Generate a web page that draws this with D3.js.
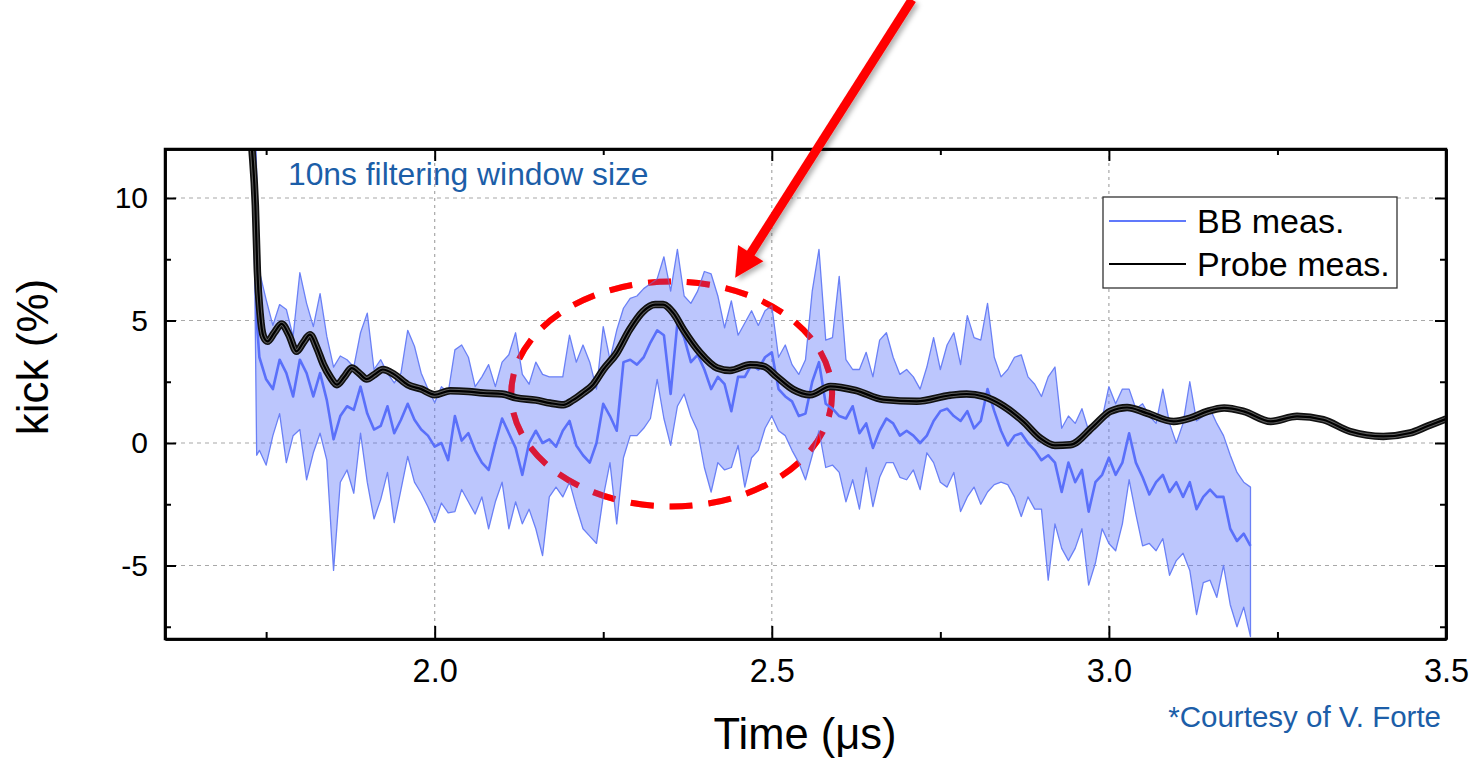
<!DOCTYPE html>
<html><head><meta charset="utf-8">
<script src="https://cdn.jsdelivr.net/npm/d3@7"></script>
<style>body{margin:0;background:#fff}svg{display:block}text{font-family:Arial,"Liberation Sans",sans-serif}</style>
</head><body>
<svg id="c" width="1473" height="759"></svg>
<script>
// ---------- data ----------
const xDomain = [1.6, 3.5];
const yDomain = [-8, 12];
const xMajor = [2.0, 2.5, 3.0, 3.5];
const xMinor = [1.75, 2.25, 2.75, 3.25];
const yMajor = [-5, 0, 5, 10];
const yMinor = [-7.5, -2.5, 2.5, 7.5];
const xTickLabels = ["2.0", "2.5", "3.0", "3.5"];
const yTickLabels = ["-5", "0", "5", "10"];
const xGrid = [2.0, 2.5, 3.0];
const yGrid = [-5, 0, 5, 10];

// BB measurement (10 ns filtering window): onset, then 0.01 us sampling from 1.74 us
const bbOnsetT     = [1.728, 1.733, 1.736];
const bbOnsetUpper = [14.0, 14.0, 11.0];
const bbOnsetMean  = [13.5, 10.0, 5.0];
const bbOnsetLower = [13.0, 7.0, -0.5];
const bbStart = 1.74, bbStep = 0.01;
const bbUpper = [7.0,5.85,4.8,5.65,5.45,4.35,6.95,5.7,4.75,6.1,4.35,3.1,3.55,3.4,3.1,4.5,5.3,3.0,3.4,2.85,
  2.45,2.85,4.6,3.95,2.85,2.2,1.65,2.3,2.05,3.8,4.0,3.5,2.3,2.7,3.2,2.3,3.3,3.6,4.5,2.8,
  2.4,3.3,2.8,2.7,2.7,2.7,4.4,3.3,4.0,3.3,2.2,4.75,3.4,4.6,5.5,5.9,6.0,6.3,6.5,6.7,
  7.6,6.2,7.9,6.0,5.7,6.2,7.0,6.9,6.0,4.7,5.8,4.4,4.9,5.4,4.8,5.4,5.6,3.5,4.0,3.2,
  2.8,3.4,6.2,7.9,4.2,4.3,6.8,3.4,3.0,3.0,3.7,2.7,4.2,4.5,3.5,2.8,3.0,2.7,2.2,3.1,
  4.3,3.0,4.0,4.5,3.2,5.2,4.3,4.2,5.7,3.5,2.7,3.0,3.5,3.6,2.7,2.4,1.9,2.7,3.1,0.6,
  1.1,0.8,1.4,0.5,0.8,1.0,2.3,1.6,2.2,2.2,1.4,1.6,1.1,0.8,2.2,0.8,0.0,0.8,2.5,0.9,
  1.1,1.4,0.8,0.3,-0.5,-1.2,-1.6,-1.8];
const bbMean = [3.5,2.6,2.2,3.4,2.85,1.9,3.4,2.85,1.9,2.85,1.75,0.15,1.1,1.5,1.35,2.3,1.2,0.55,0.7,1.5,
  0.4,0.95,1.6,0.95,0.55,0.3,-0.15,0.0,-0.7,1.1,0.1,0.4,-0.3,-0.8,-1.1,0.0,1.0,0.4,-0.2,-1.3,
  0.0,0.5,0.0,0.15,-0.15,0.5,0.9,-0.1,-0.5,-0.8,0.0,1.6,1.1,0.5,3.3,3.4,3.2,3.5,4.1,4.6,
  4.4,2.0,4.9,4.3,3.3,3.6,3.0,2.2,2.7,2.4,1.3,2.7,2.7,3.2,3.0,3.5,3.7,2.2,1.9,1.7,
  1.1,1.2,2.5,3.3,1.6,1.4,1.1,1.0,1.5,0.4,0.8,-0.2,0.5,1.0,0.8,0.3,0.5,0.3,0.0,0.3,
  0.9,1.3,1.4,1.1,0.9,1.3,0.6,0.9,2.2,1.3,0.5,-0.1,0.3,0.4,0.0,-0.3,-0.7,-0.5,-0.8,-2.0,
  -0.8,-1.6,-1.1,-2.8,-1.6,-1.3,-0.6,-1.3,-0.8,0.4,-0.8,-1.4,-2.1,-1.6,-1.3,-2.0,-1.6,-2.2,-1.6,-2.7,
  -2.2,-1.9,-2.2,-2.2,-3.5,-4.0,-3.7,-4.2];
const bbLower = [-0.3,-0.9,0.3,1.2,-0.8,0.3,0.55,-1.5,-0.4,0.4,-0.7,-5.2,-1.6,-1.1,-2.05,0.4,-1.6,-3.1,-2.3,-1.2,
  -3.25,-1.9,-0.55,-1.6,-2.05,-2.6,-3.25,-2.45,-2.85,-2.8,-1.9,-2.4,-2.9,-2.2,-3.5,-2.4,-1.6,-3.5,-2.4,-3.3,
  -2.7,-3.5,-4.6,-2.2,-1.8,-2.2,-1.6,-2.6,-3.5,-3.8,-4.1,-2.2,-0.8,-3.3,-0.6,0.3,0.3,0.6,1.0,2.6,
  1.0,-0.1,1.5,2.0,1.1,0.5,-1.0,-2.0,-0.8,-1.1,-1.0,-0.1,-1.8,-0.6,-0.3,0.6,1.1,0.5,0.3,-0.3,
  -0.8,-1.5,-0.5,0.5,-1.0,-0.9,-1.2,-2.4,-1.5,-2.7,-1.0,-2.6,-1.4,-0.8,-0.8,-1.4,-1.5,-1.1,-1.9,-0.4,
  -0.8,-1.6,-1.8,-1.2,-2.8,-2.2,-1.8,-2.5,-2.0,-1.7,-1.6,-1.7,-2.2,-3.0,-2.2,-2.7,-2.7,-5.6,-3.3,-4.3,
  -4.8,-4.3,-3.5,-5.8,-4.9,-3.5,-4.1,-4.4,-3.3,-1.5,-2.9,-4.2,-4.1,-4.4,-3.9,-5.4,-4.8,-4.5,-5.2,-7.0,
  -5.7,-5.6,-6.3,-5.0,-6.6,-7.5,-6.7,-7.9];

// Probe measurement
const probeT = [1.725,1.729,1.734,1.737,1.741,1.746,1.752,1.762,1.773,1.784,1.795,1.805,1.815,1.825,1.835,1.845,1.855,1.866,1.877,1.888,
  1.899,1.911,1.923,1.94,1.96,1.98,2.0,2.023,2.05,2.072,2.1,2.121,2.15,2.171,2.191,2.205,2.22,2.235,2.25,2.27,
  2.289,2.309,2.327,2.339,2.354,2.369,2.394,2.419,2.438,2.468,2.488,2.507,2.532,2.557,2.587,2.624,2.666,2.715,2.765,2.789,
  2.814,2.844,2.873,2.898,2.92,2.943,2.977,3.002,3.027,3.056,3.096,3.121,3.146,3.171,3.2,3.24,3.279,3.318,3.358,3.407,
  3.447,3.472,3.5];
const probeV = [13.5,12.0,9.7,7.0,5.3,4.35,4.15,4.5,4.86,4.4,3.74,4.1,4.42,3.9,3.2,2.7,2.38,2.7,3.06,2.85,
  2.61,2.8,3.0,2.8,2.38,2.2,1.97,2.13,2.1,2.04,2.0,1.84,1.75,1.63,1.56,1.75,2.04,2.38,2.99,3.67,
  4.62,5.37,5.65,5.65,5.3,4.62,3.67,3.06,2.96,3.19,3.13,2.72,2.18,1.97,2.31,2.15,1.77,1.70,1.95,2.0,
  1.90,1.50,0.88,0.20,-0.1,-0.07,0.68,1.29,1.45,1.22,0.88,1.02,1.29,1.43,1.29,0.88,1.09,0.95,0.47,0.27,
  0.41,0.68,0.98];

const seriesNames = ["BB meas.", "Probe meas."];
const noteText = "10ns filtering window size";
const creditText = "*Courtesy of V. Forte";
const xTitle = "Time (\u03BCs)";
const yTitle = "kick (%)";
// annotation (data units)
const ellipseCenter = [2.3515, 2.0], ellipseRadii = [0.238, 4.59];
const arrowFrom = [2.708, 18.1], arrowTo = [2.4457, 6.75];

// ---------- build ----------
const bbT = bbOnsetT.concat(d3.range(bbUpper.length).map(i => +(bbStart + i * bbStep).toFixed(3)));
const bbU = bbOnsetUpper.concat(bbUpper), bbM = bbOnsetMean.concat(bbMean), bbL = bbOnsetLower.concat(bbLower);
const bb = bbT.map((t, i) => ({t, u: bbU[i], m: bbM[i], l: bbL[i]}));
const probe = probeT.map((t, i) => ({t, v: probeV[i]}));

const L = 165, R = 1446, T = 149, B = 639;
const x = d3.scaleLinear().domain(xDomain).range([L, R]);
const y = d3.scaleLinear().domain(yDomain).range([B, T]);
const svg = d3.select("#c");

const defs = svg.append("defs");
defs.append("clipPath").attr("id", "clip").append("rect")
  .attr("x", L).attr("y", T).attr("width", R - L).attr("height", B - T);
const f = defs.append("filter").attr("id", "shadow").attr("x", "-20%").attr("y", "-20%").attr("width", "140%").attr("height", "140%");
f.append("feDropShadow").attr("dx", 3).attr("dy", 3).attr("stdDeviation", 2.5).attr("flood-color", "#000").attr("flood-opacity", 0.3);

// grid
const grid = svg.append("g").attr("stroke", "#a8a8a8").attr("stroke-width", 1.2);
grid.selectAll(".gx").data(xGrid).join("line")
  .attr("x1", d => x(d)).attr("x2", d => x(d)).attr("y1", T).attr("y2", B)
  .attr("stroke-dasharray", "3,4");
grid.selectAll(".gy").data(yGrid).join("line")
  .attr("y1", d => y(d)).attr("y2", d => y(d)).attr("x1", L).attr("x2", R)
  .attr("stroke-dasharray", "4,4");

const plot = svg.append("g").attr("clip-path", "url(#clip)");

// red dashed ellipse (behind translucent band)
const ell = (sel) => sel
  .attr("cx", x(ellipseCenter[0])).attr("cy", y(ellipseCenter[1]))
  .attr("rx", x(ellipseCenter[0] + ellipseRadii[0]) - x(ellipseCenter[0]))
  .attr("ry", y(ellipseCenter[1]) - y(ellipseCenter[1] + ellipseRadii[1]))
  .attr("fill", "none").attr("stroke", "#ff0000").attr("stroke-width", 6)
  .attr("stroke-dasharray", "23,16");
plot.append("ellipse").call(ell);

// BB band
const area = d3.area().x(d => x(d.t)).y0(d => y(d.l)).y1(d => y(d.u));
plot.append("path").datum(bb).attr("d", area)
  .attr("fill", "rgba(88,112,250,0.40)")
  .attr("stroke", "#6a80f6").attr("stroke-width", 1.3).attr("stroke-linejoin", "round");
// ellipse partly showing through the band
plot.append("ellipse").call(ell).attr("stroke-opacity", 0.45);
plot.append("path").datum(bb)
  .attr("d", d3.line().x(d => x(d.t)).y(d => y(d.m)))
  .attr("fill", "none").attr("stroke", "#5a70fa").attr("stroke-width", 2.6).attr("stroke-linejoin", "round");

// Probe line with thin error band look
const pLine = d3.line().x(d => x(d.t)).y(d => y(d.v)).curve(d3.curveMonotoneX);
plot.append("path").datum(probe).attr("d", pLine).attr("fill", "none").attr("stroke", "#111").attr("stroke-width", 7.5);
plot.append("path").datum(probe).attr("d", pLine).attr("fill", "none").attr("stroke", "#5c5c5c").attr("stroke-width", 4.2);
plot.append("path").datum(probe).attr("d", pLine).attr("fill", "none").attr("stroke", "#000").attr("stroke-width", 2.2);

// axes
function styleAxis(g) {
  g.selectAll("path.domain").attr("stroke", "#000").attr("stroke-width", 2.5);
  g.selectAll(".tick line").attr("stroke", "#000").attr("stroke-width", 2);
}
const xAxis = svg.append("g").attr("transform", `translate(0,${B})`)
  .call(d3.axisBottom(x).tickValues(xMajor).tickSize(-13).tickSizeOuter(0).tickPadding(20)
    .tickFormat((d, i) => xTickLabels[i]));
xAxis.selectAll("text").attr("font-size", 32.5).attr("fill", "#000");
styleAxis(xAxis);
styleAxis(svg.append("g").attr("transform", `translate(0,${B})`)
  .call(d3.axisBottom(x).tickValues(xMinor).tickSize(-7).tickSizeOuter(0).tickFormat("")));
styleAxis(svg.append("g").attr("transform", `translate(0,${T})`)
  .call(d3.axisTop(x).tickValues(xMajor).tickSize(-12).tickSizeOuter(0).tickFormat("")));
styleAxis(svg.append("g").attr("transform", `translate(0,${T})`)
  .call(d3.axisTop(x).tickValues(xMinor).tickSize(-6).tickSizeOuter(0).tickFormat("")));

const yAxis = svg.append("g").attr("transform", `translate(${L},0)`)
  .call(d3.axisLeft(y).tickValues(yMajor).tickSize(-11).tickSizeOuter(0).tickPadding(17)
    .tickFormat((d, i) => yTickLabels[i]));
yAxis.selectAll("text").attr("font-size", 30).attr("fill", "#000");
styleAxis(yAxis);
styleAxis(svg.append("g").attr("transform", `translate(${L},0)`)
  .call(d3.axisLeft(y).tickValues(yMinor).tickSize(-6).tickSizeOuter(0).tickFormat("")));
styleAxis(svg.append("g").attr("transform", `translate(${R},0)`)
  .call(d3.axisRight(y).tickValues(yMajor).tickSize(-11).tickSizeOuter(0).tickFormat("")));
styleAxis(svg.append("g").attr("transform", `translate(${R},0)`)
  .call(d3.axisRight(y).tickValues(yMinor).tickSize(-6).tickSizeOuter(0).tickFormat("")));

// frame
svg.append("rect").attr("x", L).attr("y", T).attr("width", R - L).attr("height", B - T)
  .attr("fill", "none").attr("stroke", "#000").attr("stroke-width", 2.5);

// legend
const lg = svg.append("g");
lg.append("rect").attr("x", 1103).attr("y", 197).attr("width", 294).attr("height", 91)
  .attr("fill", "#fff").attr("stroke", "#333").attr("stroke-width", 1.3);
const legendColors = ["#6079fb", "#000"];
seriesNames.forEach((name, i) => {
  const yy = 221 + i * 43;
  lg.append("line").attr("x1", 1109).attr("x2", 1186).attr("y1", yy).attr("y2", yy)
    .attr("stroke", legendColors[i]).attr("stroke-width", 2.2);
  lg.append("text").attr("x", 1197).attr("y", yy + 12).attr("font-size", 34).attr("fill", "#000").text(name);
});

// texts
svg.append("text").attr("x", 288).attr("y", 185).attr("font-size", 31.8).attr("fill", "#1c5ea8").text(noteText);
svg.append("text").attr("x", 1441).attr("y", 727).attr("text-anchor", "end").attr("font-size", 29.5).attr("fill", "#1c5ea8").text(creditText);
svg.append("text").attr("x", 805).attr("y", 749).attr("text-anchor", "middle").attr("font-size", 43.5).attr("fill", "#000").text(xTitle);
svg.append("text").attr("transform", "translate(48,357) rotate(-90)").attr("text-anchor", "middle")
  .attr("font-size", 44).attr("fill", "#000").text(yTitle);

// arrow
const ax0 = x(arrowFrom[0]), ay0 = y(arrowFrom[1]), ax1 = x(arrowTo[0]), ay1 = y(arrowTo[1]);
const len = Math.hypot(ax1 - ax0, ay1 - ay0), ux = (ax1 - ax0) / len, uy = (ay1 - ay0) / len;
const hl = 29, hw = 15;
const bx = ax1 - ux * hl, by = ay1 - uy * hl;
const ag = svg.append("g").attr("filter", "url(#shadow)");
ag.append("line").attr("x1", ax0).attr("y1", ay0).attr("x2", bx + ux * 2).attr("y2", by + uy * 2)
  .attr("stroke", "#ff0000").attr("stroke-width", 9);
ag.append("path").attr("d", `M${ax1},${ay1}L${bx - uy * hw},${by + ux * hw}L${bx + uy * hw},${by - ux * hw}Z`)
  .attr("fill", "#ff0000");
</script>
</body></html>
